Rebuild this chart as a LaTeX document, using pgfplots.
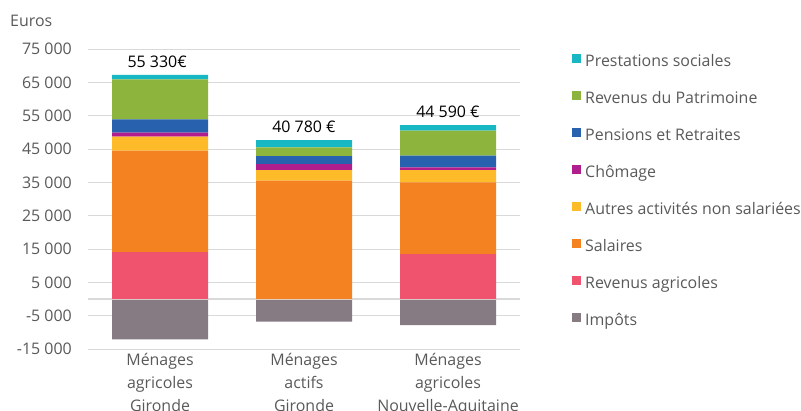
\documentclass[border=0pt]{standalone}
\usepackage{fontspec}
\setmainfont{Open Sans}
\usepackage{pgfplots}
\pgfplotsset{compat=1.18}
\definecolor{txt}{HTML}{595959}
\definecolor{gridc}{HTML}{D9D9D9}
\definecolor{cPrest}{RGB}{23,183,195}
\definecolor{cPatr}{RGB}{141,180,61}
\definecolor{cPens}{RGB}{40,98,175}
\definecolor{cChom}{RGB}{176,30,142}
\definecolor{cAutr}{RGB}{253,187,42}
\definecolor{cSal}{RGB}{245,130,32}
\definecolor{cAgri}{RGB}{240,83,110}
\definecolor{cImp}{RGB}{134,123,130}
\newcommand{\fs}{\fontsize{16}{23}\selectfont}
\pgfplotsset{common/.style={
  at={(88bp,61bp)}, anchor=south west,
  scale only axis, width=432bp, height=300bp,
  bar width=96bp,
  xmin=-0.5, xmax=2.5, ymin=-15000, ymax=75000,
  axis line style={draw=none},
  major tick length=0pt,
  scaled y ticks=false,
}}
\begin{document}
\begin{tikzpicture}[x=1bp,y=1bp]
\useasboundingbox (0,0) rectangle (801,410);
\node[anchor=base west, text=txt, font=\fs, inner sep=0pt] at (10,384) {Euros};
% background axis: grid, ticks, negative bars
\begin{axis}[common, ybar,
  xtick={0,1,2},
  xticklabels={{Ménages\\agricoles\\Gironde},{Ménages\\actifs\\Gironde},{Ménages\\agricoles\\Nouvelle-Aquitaine}},
  xticklabel style={align=center, font=\fs, text=txt, inner sep=0pt, yshift=-4bp},
  ytick={-15000,-5000,5000,15000,25000,35000,45000,55000,65000,75000},
  yticklabels={-15 000,-5 000,5 000,15 000,25 000,35 000,45 000,55 000,65 000,75 000},
  yticklabel style={font=\fs, text=txt, inner sep=0pt, xshift=-16bp},
  ymajorgrids, grid style={gridc, line width=0.8bp},
]
\addplot[fill=cImp, draw=none] coordinates {(0,-12100) (1,-6800) (2,-7800)};
\end{axis}
% foreground axis: stacked positive income components
\begin{axis}[common, ybar stacked,
  xtick=\empty, ytick=\empty,
  reverse legend,
  legend style={at={(axis description cs:1.1204,0.985)}, anchor=north west,
    draw=none, fill=none, inner sep=0pt, font=\fs, text=txt,
    nodes={inner sep=0pt, text height=10.5bp, text depth=3bp},
    row sep=21.3bp,
    /tikz/every odd column/.style={column sep=4bp}},
  legend cell align=left,
  legend image code/.code={\fill[#1] (0bp,0bp) rectangle (9bp,9bp);},
]
\addlegendimage{fill=cImp, draw=none}
\addlegendentry{Impôts}
\addplot[fill=cAgri, draw=none] coordinates {(0,14100) (1,0) (2,13500)};
\addlegendentry{Revenus agricoles}
\addplot[fill=cSal, draw=none] coordinates {(0,30400) (1,35500) (2,21500)};
\addlegendentry{Salaires}
\addplot[fill=cAutr, draw=none] coordinates {(0,4200) (1,3200) (2,3700)};
\addlegendentry{Autres activités non salariées}
\addplot[fill=cChom, draw=none] coordinates {(0,1200) (1,1800) (2,800)};
\addlegendentry{Chômage}
\addplot[fill=cPens, draw=none] coordinates {(0,4000) (1,2400) (2,3500)};
\addlegendentry{Pensions et Retraites}
\addplot[fill=cPatr, draw=none] coordinates {(0,12000) (1,2600) (2,7500)};
\addlegendentry{Revenus du Patrimoine}
\addplot[fill=cPrest, draw=none] coordinates {(0,1300) (1,2200) (2,1700)};
\addlegendentry{Prestations sociales}
\draw[gridc, line width=1.6bp] (axis cs:-0.5,0) -- (axis cs:2.5,0);
\node[anchor=base, font=\fs, text=black, inner sep=0pt] at (axis cs:-0.02,67200) [yshift=7bp] {55 330€};
\node[anchor=base, font=\fs, text=black, inner sep=0pt] at (axis cs:1,47700) [yshift=7.5bp] {40 780 €};
\node[anchor=base, font=\fs, text=black, inner sep=0pt] at (axis cs:2,52200) [yshift=7.5bp] {44 590 €};
\end{axis}
\end{tikzpicture}
\end{document}
